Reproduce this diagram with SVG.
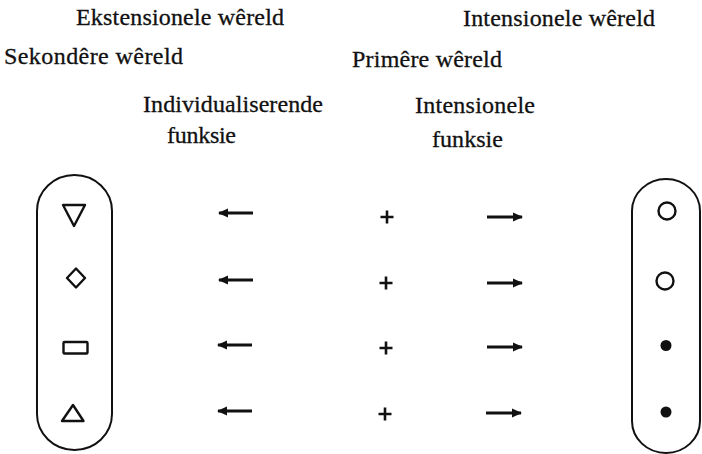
<svg xmlns="http://www.w3.org/2000/svg" width="702" height="454" viewBox="0 0 702 454">
<style>
.t{font-family:'Liberation Serif','Times New Roman',Times,serif;font-size:24px;fill:#111;stroke:#111;stroke-width:0.3;}
.cap{fill:none;stroke:#111;stroke-width:2;}
.sym{fill:none;stroke:#111;stroke-width:2.4;stroke-linejoin:round;}
.dot{fill:#111;}
.arr{stroke:#111;stroke-width:3;marker-end:url(#ah);}
.plus{stroke:#111;stroke-width:2.6;}
</style>
<defs>
<marker id="ah" markerUnits="userSpaceOnUse" markerWidth="12" markerHeight="12" refX="9" refY="6" orient="auto">
<path d="M0,1.5 L10,6 L0,10.5 z" fill="#111"/>
</marker>
</defs>
<g id="label-ekstensionele"><text class="t" x="76" y="25" textLength="208">Ekstensionele wêreld</text></g>
<g id="label-intensionele-wereld"><text class="t" x="463" y="26" textLength="192">Intensionele wêreld</text></g>
<g id="label-sekondere"><text class="t" x="4" y="64" textLength="179">Sekondêre wêreld</text></g>
<g id="label-primere"><text class="t" x="352" y="67" textLength="150">Primêre wêreld</text></g>
<g id="label-individualiserende"><text class="t" x="143" y="112" textLength="180">Individualiserende</text><text class="t" x="167" y="143" textLength="69">funksie</text></g>
<g id="label-intensionele-funksie"><text class="t" x="415" y="113" textLength="120">Intensionele</text><text class="t" x="432" y="147" textLength="71">funksie</text></g>
<g id="left-set">
<rect class="cap" x="37" y="175" width="75" height="275" rx="37.5" ry="36"/>
<path class="sym" d="M63,205 L85,205 L74,226 Z"/>
<path class="sym" d="M76,268.5 L85,278 L76,287.5 L67,278 Z"/>
<rect class="sym" x="63.5" y="342" width="24" height="11.5" rx="1"/>
<path class="sym" d="M73,405 L83.5,421 L62,421 Z"/>
</g>
<g id="right-set">
<rect class="cap" x="632" y="179" width="68" height="274" rx="34" ry="32"/>
<circle class="sym" cx="667" cy="211" r="8.5"/>
<circle class="sym" cx="665" cy="281" r="8.5"/>
<circle class="dot" cx="666" cy="345.5" r="5.5"/>
<circle class="dot" cx="666" cy="412" r="5.5"/>
</g>
<g id="connectors">
<line class="arr" x1="253" y1="213" x2="219" y2="213"/>
<line class="arr" x1="253" y1="280" x2="219" y2="280"/>
<line class="arr" x1="252" y1="345" x2="218" y2="345"/>
<line class="arr" x1="252" y1="411" x2="218" y2="411"/>
<line class="arr" x1="487" y1="217" x2="522" y2="217"/>
<line class="arr" x1="487" y1="283" x2="522" y2="283"/>
<line class="arr" x1="487" y1="347" x2="522" y2="347"/>
<line class="arr" x1="486" y1="413" x2="521" y2="413"/>
</g>
<g id="plus-signs">
<path class="plus" d="M380.5,217 h13 M387,210.5 v13"/>
<path class="plus" d="M379.5,283 h13 M386,276.5 v13"/>
<path class="plus" d="M379.5,348 h13 M386,341.5 v13"/>
<path class="plus" d="M378.5,414 h13 M385,407.5 v13"/>
</g>
</svg>
